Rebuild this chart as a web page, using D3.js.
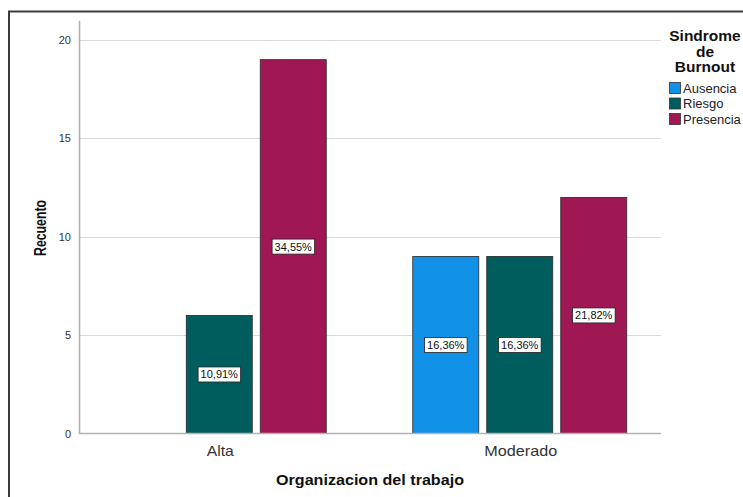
<!DOCTYPE html>
<html>
<head>
<meta charset="utf-8">
<script src="https://cdn.jsdelivr.net/npm/d3@7"></script>
<style>
  html, body { margin: 0; padding: 0; background: #fff; }
  svg { display: block; font-family: "Liberation Sans", Arial, sans-serif; }
</style>
</head>
<body>
<svg id="chart" width="743" height="497"></svg>
<script>
// Recuento por organizacion del trabajo y sindrome de burnout
const categories = ["Alta", "Moderado"];
const seriesNames = ["Ausencia", "Riesgo", "Presencia"];
const ausencia = [0, 9];
const riesgo = [6, 9];
const presencia = [19, 12];
const percentLabels = {
  Ausencia: [null, "16,36%"],
  Riesgo: ["10,91%", "16,36%"],
  Presencia: ["34,55%", "21,82%"]
};
const yTicks = [0, 5, 10, 15, 20];
const colors = ["#1192e8", "#005d5d", "#9f1853"];

const seriesValues = { Ausencia: ausencia, Riesgo: riesgo, Presencia: presencia };

const svg = d3.select("#chart");

// outer frame (top and left edges)
svg.append("path")
  .attr("d", "M9,497 V11.5 H743")
  .attr("fill", "none")
  .attr("stroke", "#3c3c3c")
  .attr("stroke-width", 2);

const plotLeft = 79, plotRight = 661;
const y = d3.scaleLinear().domain([0, 21]).range([433.5, 20.3]);
const x0 = d3.scaleBand().domain(categories).range([69, 670]).paddingInner(0).paddingOuter(0);
const x1 = d3.scaleBand().domain(seriesNames).range([-111, 111]).paddingInner(0.108).paddingOuter(0.054);
const color = d3.scaleOrdinal().domain(seriesNames).range(colors);

// gridlines
svg.append("g")
  .selectAll("line")
  .data(yTicks.filter(d => d > 0))
  .join("line")
  .attr("x1", plotLeft).attr("x2", plotRight)
  .attr("y1", d => Math.round(y(d)) + 0.5).attr("y2", d => Math.round(y(d)) + 0.5)
  .attr("stroke", "#d9d9d9")
  .attr("stroke-width", 1.2);

// y axis
const yAxis = svg.append("g")
  .attr("transform", `translate(${plotLeft},0)`)
  .call(d3.axisLeft(y).tickValues(yTicks).tickSize(0).tickPadding(8));
yAxis.select(".domain").attr("stroke", "#b3b3b3").attr("stroke-width", 1.6);
yAxis.selectAll("text").attr("font-size", 11).attr("fill", "#333")
  .attr("font-family", "'Liberation Sans', Arial, sans-serif");

// bars
const groups = svg.append("g")
  .selectAll("g")
  .data(categories)
  .join("g")
  .attr("transform", d => `translate(${x0(d) + x0.bandwidth() / 2},0)`);

groups.each(function (cat, ci) {
  const g = d3.select(this);
  seriesNames.forEach(s => {
    const v = seriesValues[s][ci];
    if (!v) return;
    g.append("rect")
      .attr("x", x1(s))
      .attr("y", y(v))
      .attr("width", x1.bandwidth())
      .attr("height", y(0) - y(v))
      .attr("fill", color(s))
      .attr("stroke", "#2a2a2a")
      .attr("stroke-width", 0.8);
  });
  seriesNames.forEach(s => {
    const v = seriesValues[s][ci];
    const lbl = percentLabels[s][ci];
    if (!v || !lbl) return;
    const cx = x1(s) + x1.bandwidth() / 2;
    const cy = (y(v) + y(0)) / 2;
    const t = g.append("text")
      .attr("x", cx).attr("y", cy + 4)
      .attr("text-anchor", "middle")
      .attr("font-size", 11)
      .attr("fill", "#111")
      .text(lbl);
    const bb = t.node().getBBox();
    g.insert("rect", function () { return t.node(); })
      .attr("x", bb.x - 2.5).attr("y", cy - 7.5)
      .attr("width", bb.width + 5).attr("height", 15)
      .attr("fill", "#fff")
      .attr("stroke", "#222")
      .attr("stroke-width", 0.8);
  });
});

// x axis line
svg.append("line")
  .attr("x1", plotLeft).attr("x2", plotRight)
  .attr("y1", y(0)).attr("y2", y(0))
  .attr("stroke", "#b3b3b3").attr("stroke-width", 1.6);

// category labels
const catWidths = { Alta: 27, Moderado: 73 };
svg.append("g")
  .selectAll("text")
  .data(categories)
  .join("text")
  .attr("x", d => x0(d) + x0.bandwidth() / 2 + 1)
  .attr("y", 456)
  .attr("text-anchor", "middle")
  .attr("font-size", 15)
  .attr("fill", "#333")
  .attr("textLength", d => catWidths[d])
  .attr("lengthAdjust", "spacingAndGlyphs")
  .text(d => d);

// axis titles
svg.append("text")
  .attr("x", 370).attr("y", 485)
  .attr("text-anchor", "middle")
  .attr("font-size", 15).attr("font-weight", "bold").attr("fill", "#111")
  .attr("textLength", 188).attr("lengthAdjust", "spacingAndGlyphs")
  .text("Organizacion del trabajo");

svg.append("text")
  .attr("transform", "translate(46,228) rotate(-90)")
  .attr("text-anchor", "middle")
  .attr("font-size", 16).attr("font-weight", "bold").attr("fill", "#111")
  .attr("textLength", 56).attr("lengthAdjust", "spacingAndGlyphs")
  .text("Recuento");

// legend
const legend = svg.append("g");
["Sindrome", "de", "Burnout"].forEach((line, i) => {
  legend.append("text")
    .attr("x", 705).attr("y", 41 + i * 15.5)
    .attr("text-anchor", "middle")
    .attr("font-size", 15.5).attr("font-weight", "bold").attr("fill", "#111")
    .text(line);
});
seriesNames.forEach((s, i) => {
  const yy = 82 + i * 15.5;
  legend.append("rect")
    .attr("x", 669.5).attr("y", yy + 0.5)
    .attr("width", 11).attr("height", 11)
    .attr("fill", color(s))
    .attr("stroke", "#333").attr("stroke-width", 0.8);
  legend.append("text")
    .attr("x", 683).attr("y", yy + 10.5)
    .attr("font-size", 13).attr("fill", "#222")
    .text(s);
});
</script>
</body>
</html>
